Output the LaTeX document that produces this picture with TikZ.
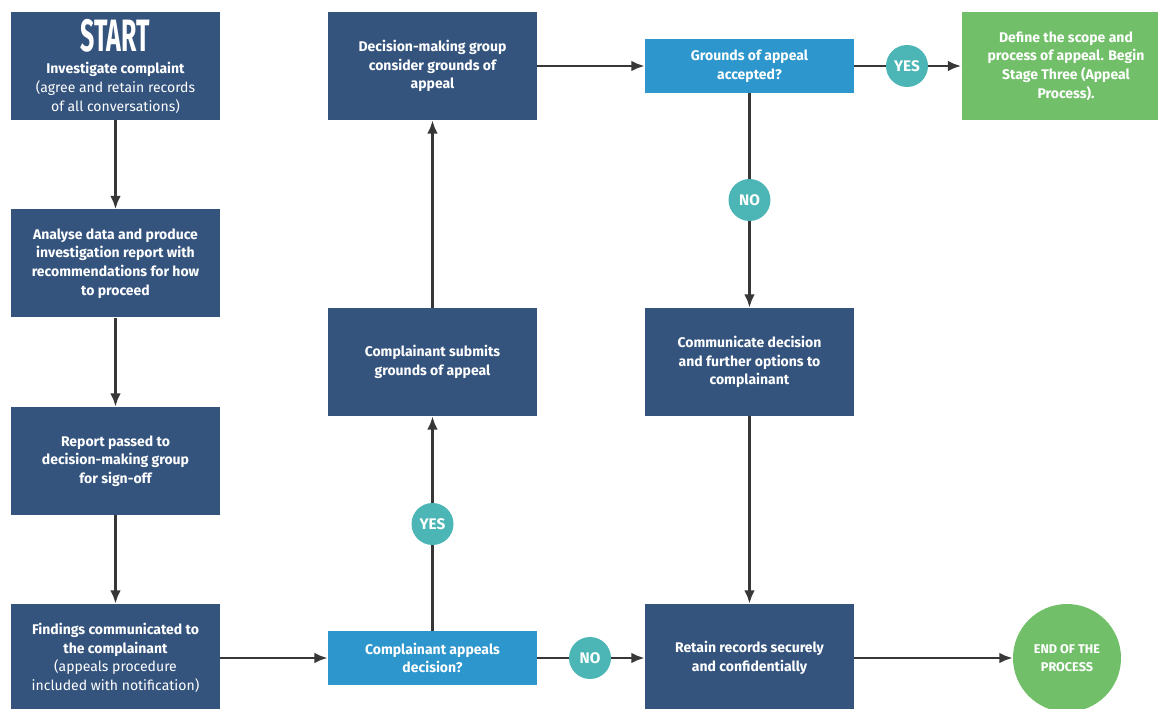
\documentclass[tikz,border=0pt]{standalone}
\usepackage{fontspec}
\setmainfont{Fira Sans}
\usepackage{graphicx}
\usetikzlibrary{arrows.meta}

\definecolor{boxblue}{RGB}{52,84,126}
\definecolor{askblue}{RGB}{44,150,205}
\definecolor{yesno}{RGB}{75,182,181}
\definecolor{endgreen}{RGB}{114,191,106}
\definecolor{linegrey}{RGB}{55,55,55}

\tikzset{
  stepbox/.style={fill=boxblue, text=white, align=center, inner sep=0pt,
    minimum width=156.75pt, minimum height=81pt,
    font=\fontsize{10.5}{14}\selectfont\bfseries},
  askbox/.style={stepbox, fill=askblue, minimum height=40.5pt},
  donebox/.style={stepbox, fill=endgreen},
  answer/.style={circle, fill=yesno, text=white, inner sep=0pt,
    minimum size=31.5pt, font=\fontsize{11.5}{11.5}\selectfont\bfseries},
  finish/.style={circle, fill=endgreen, text=white, inner sep=0pt, align=center,
    minimum size=81pt, font=\fontsize{9.5}{14}\selectfont\bfseries},
  flow/.style={draw=linegrey, line width=2pt, -{Latex[length=10pt,width=8pt]}},
  link/.style={draw=linegrey, line width=2pt}
}

\begin{document}
\begin{tikzpicture}[x=0.75pt,y=0.75pt,yscale=-1,xscale=1]
\useasboundingbox (0,0) rectangle (1158,709);

%Shape: Rectangle [left column]
\node[stepbox] (start) at (115.5,66) {\scalebox{0.55}[1]{\fontsize{34}{30}\selectfont START}\\[3pt]
  Investigate complaint\\ \mdseries(agree and retain records\\ \mdseries of all conversations)};
\node[stepbox] (analyse) at (115.5,263.5) {Analyse data and produce\\investigation report with\\recommendations for how\\to proceed};
\node[stepbox] (report) at (115.5,461) {Report passed to\\decision-making group\\for sign-off};
\node[stepbox] (findings) at (115.5,658) {Findings communicated to\\the complainant\\ \mdseries(appeals procedure\\ \mdseries included with notification)};

%Shape: Rectangle [middle column]
\node[stepbox] (decision) at (432.5,66) {Decision-making group\\consider grounds of\\appeal};
\node[stepbox] (submits) at (432.5,362) {Complainant submits\\grounds of appeal};
\node[askbox] (appeals) at (432.5,658) {Complainant appeals\\decision?};

%Shape: Rectangle [right column]
\node[askbox] (grounds) at (749.5,66) {Grounds of appeal\\accepted?};
\node[stepbox] (communicate) at (749.5,362) {Communicate decision\\and further options to\\complainant};
\node[stepbox] (retain) at (749.5,658) {Retain records securely\\and confidentially};
\node[donebox] (define) at (1066,66) {Define the scope and\\process of appeal. Begin\\Stage Three (Appeal\\Process).};

%Shape: Circle
\node[answer] (yesA) at (432.5,524) {YES};
\node[answer] (noA) at (590,658) {NO};
\node[answer] (yesB) at (907,66) {YES};
\node[answer] (noB) at (749.5,200) {NO};
\node[finish] (end) at (1067,658) {END OF THE\\PROCESS};

%Connectors
\draw[flow] (start) -- (analyse);
\draw[flow] (analyse) -- (report);
\draw[flow] (report) -- (findings);
\draw[flow] (findings) -- (appeals);
\draw[link] (appeals) -- (yesA);
\draw[flow] (yesA) -- (submits);
\draw[flow] (submits) -- (decision);
\draw[flow] (decision) -- (grounds);
\draw[link] (grounds) -- (yesB);
\draw[flow] (yesB) -- (define);
\draw[link] (grounds) -- (noB);
\draw[flow] (noB) -- (communicate);
\draw[flow] (communicate) -- (retain);
\draw[link] (appeals) -- (noA);
\draw[flow] (noA) -- (retain);
\draw[flow] (retain) -- (end);

\end{tikzpicture}
\end{document}
